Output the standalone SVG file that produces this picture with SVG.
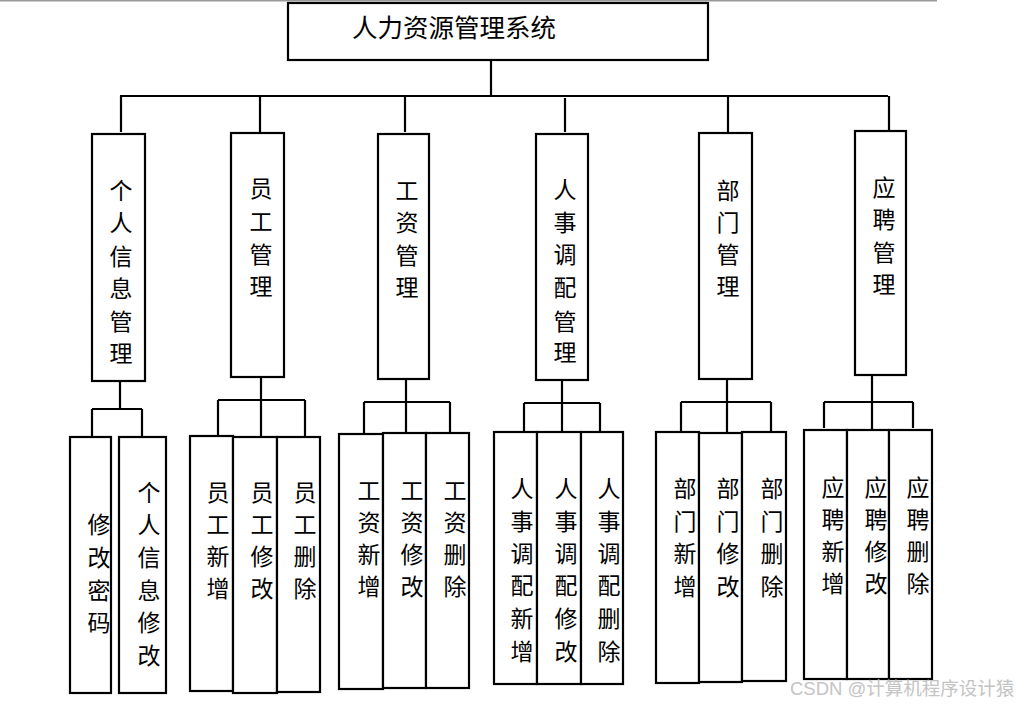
<svg xmlns="http://www.w3.org/2000/svg" width="1024" height="706" viewBox="0 0 1024 706">
<style>
.b{fill:#fff;stroke:#000;stroke-width:2.2}
.l{fill:none;stroke:#000;stroke-width:2.2}
.t{font-family:"Liberation Serif","Noto Sans CJK SC",serif;font-size:23px;fill:#000;text-anchor:middle;dominant-baseline:central}
.wm{font-family:"Liberation Sans","Noto Sans CJK SC",sans-serif;font-size:18.5px;fill:#c4c4c4}
</style>
<rect width="1024" height="706" fill="#fff"/>
<line x1="0" y1="0.5" x2="937" y2="0.5" stroke="#999" stroke-width="2"/>
<g id="connectors">
<path class="l" d="M491,60V97M120,96H888M121,96V132M260,96V132M405,96V132M565,98V132M728,96V132M889,96V130"/>
<path class="l" d="M120,381V409M92,409H142M92,409V436M142,409V436"/>
<path class="l" d="M261,377V436M218,400H305M218,400V436M305,400V436"/>
<path class="l" d="M406,379V433M364,402H450M364,402V433M450,402V433"/>
<path class="l" d="M562,380V431M524,403H600M524,403V431M600,403V431"/>
<path class="l" d="M727,379V432M681,402H771M681,402V431M771,402V431"/>
<path class="l" d="M872,375V430M824,402H913M824,402V428M913,402V428"/>
</g>
<g id="root"><rect class="b" x="288" y="3" width="420" height="57"/>
<text x="454" y="28" font-family="Liberation Serif,Noto Sans CJK SC,serif" font-size="25.5" text-anchor="middle" dominant-baseline="central">人力资源管理系统</text></g>
<g id="n1"><rect class="b" x="92" y="134" width="53" height="247"/><text class="t"><tspan x="121" y="191">个</tspan><tspan x="121" y="223">人</tspan><tspan x="121" y="257">信</tspan><tspan x="121" y="289">息</tspan><tspan x="121" y="322">管</tspan><tspan x="121" y="354">理</tspan></text></g>
<g id="n2"><rect class="b" x="231" y="133" width="53" height="244"/><text class="t"><tspan x="261" y="189">员</tspan><tspan x="261" y="222">工</tspan><tspan x="261" y="255">管</tspan><tspan x="261" y="287">理</tspan></text></g>
<g id="n3"><rect class="b" x="378" y="134" width="51" height="245"/><text class="t"><tspan x="407" y="191">工</tspan><tspan x="407" y="223">资</tspan><tspan x="407" y="256">管</tspan><tspan x="407" y="288">理</tspan></text></g>
<g id="n4"><rect class="b" x="536" y="134" width="52" height="246"/><text class="t"><tspan x="565" y="190">人</tspan><tspan x="565" y="223">事</tspan><tspan x="565" y="255">调</tspan><tspan x="565" y="288">配</tspan><tspan x="565" y="322">管</tspan><tspan x="565" y="353">理</tspan></text></g>
<g id="n5"><rect class="b" x="699" y="133" width="53" height="246"/><text class="t"><tspan x="728" y="191">部</tspan><tspan x="728" y="223">门</tspan><tspan x="728" y="255">管</tspan><tspan x="728" y="287">理</tspan></text></g>
<g id="n6"><rect class="b" x="855" y="131" width="51" height="244"/><text class="t"><tspan x="884" y="188">应</tspan><tspan x="884" y="220">聘</tspan><tspan x="884" y="253">管</tspan><tspan x="884" y="285">理</tspan></text></g>
<g id="n1a"><rect class="b" x="70" y="437" width="41" height="256"/><text class="t"><tspan x="99" y="525">修</tspan><tspan x="99" y="558">改</tspan><tspan x="99" y="591">密</tspan><tspan x="99" y="623">码</tspan></text></g>
<g id="n1b"><rect class="b" x="119" y="437" width="47" height="256"/><text class="t"><tspan x="149" y="493">个</tspan><tspan x="149" y="525">人</tspan><tspan x="149" y="558">信</tspan><tspan x="149" y="591">息</tspan><tspan x="149" y="623">修</tspan><tspan x="149" y="656">改</tspan></text></g>
<g id="n2a"><rect class="b" x="190" y="436" width="43" height="255"/><text class="t"><tspan x="218" y="493">员</tspan><tspan x="218" y="525">工</tspan><tspan x="218" y="557">新</tspan><tspan x="218" y="589">增</tspan></text></g>
<g id="n2b"><rect class="b" x="233" y="437" width="44" height="256"/><text class="t"><tspan x="262" y="493">员</tspan><tspan x="262" y="525">工</tspan><tspan x="262" y="557">修</tspan><tspan x="262" y="589">改</tspan></text></g>
<g id="n2c"><rect class="b" x="277" y="437" width="43" height="255"/><text class="t"><tspan x="305" y="493">员</tspan><tspan x="305" y="525">工</tspan><tspan x="305" y="557">删</tspan><tspan x="305" y="589">除</tspan></text></g>
<g id="n3a"><rect class="b" x="339" y="434" width="44" height="255"/><text class="t"><tspan x="369" y="491">工</tspan><tspan x="369" y="523">资</tspan><tspan x="369" y="555">新</tspan><tspan x="369" y="587">增</tspan></text></g>
<g id="n3b"><rect class="b" x="383" y="433" width="43" height="255"/><text class="t"><tspan x="412" y="491">工</tspan><tspan x="412" y="523">资</tspan><tspan x="412" y="555">修</tspan><tspan x="412" y="587">改</tspan></text></g>
<g id="n3c"><rect class="b" x="426" y="433" width="43" height="255"/><text class="t"><tspan x="455" y="491">工</tspan><tspan x="455" y="523">资</tspan><tspan x="455" y="555">删</tspan><tspan x="455" y="587">除</tspan></text></g>
<g id="n4a"><rect class="b" x="494" y="432" width="43" height="252"/><text class="t"><tspan x="522" y="489">人</tspan><tspan x="522" y="522">事</tspan><tspan x="522" y="554">调</tspan><tspan x="522" y="586">配</tspan><tspan x="522" y="619">新</tspan><tspan x="522" y="652">增</tspan></text></g>
<g id="n4b"><rect class="b" x="537" y="432" width="44" height="252"/><text class="t"><tspan x="566" y="489">人</tspan><tspan x="566" y="522">事</tspan><tspan x="566" y="554">调</tspan><tspan x="566" y="586">配</tspan><tspan x="566" y="619">修</tspan><tspan x="566" y="652">改</tspan></text></g>
<g id="n4c"><rect class="b" x="581" y="432" width="42" height="252"/><text class="t"><tspan x="609" y="489">人</tspan><tspan x="609" y="522">事</tspan><tspan x="609" y="554">调</tspan><tspan x="609" y="586">配</tspan><tspan x="609" y="619">删</tspan><tspan x="609" y="652">除</tspan></text></g>
<g id="n5a"><rect class="b" x="656" y="432" width="43" height="251"/><text class="t"><tspan x="685" y="489">部</tspan><tspan x="685" y="522">门</tspan><tspan x="685" y="554">新</tspan><tspan x="685" y="587">增</tspan></text></g>
<g id="n5b"><rect class="b" x="699" y="433" width="43" height="249"/><text class="t"><tspan x="728" y="489">部</tspan><tspan x="728" y="522">门</tspan><tspan x="728" y="554">修</tspan><tspan x="728" y="587">改</tspan></text></g>
<g id="n5c"><rect class="b" x="742" y="432" width="44" height="249"/><text class="t"><tspan x="772" y="489">部</tspan><tspan x="772" y="522">门</tspan><tspan x="772" y="554">删</tspan><tspan x="772" y="587">除</tspan></text></g>
<g id="n6a"><rect class="b" x="804" y="430" width="43" height="249"/><text class="t"><tspan x="833" y="488">应</tspan><tspan x="833" y="520">聘</tspan><tspan x="833" y="552">新</tspan><tspan x="833" y="584">增</tspan></text></g>
<g id="n6b"><rect class="b" x="847" y="430" width="42" height="249"/><text class="t"><tspan x="876" y="488">应</tspan><tspan x="876" y="520">聘</tspan><tspan x="876" y="552">修</tspan><tspan x="876" y="584">改</tspan></text></g>
<g id="n6c"><rect class="b" x="889" y="430" width="43" height="249"/><text class="t"><tspan x="918" y="488">应</tspan><tspan x="918" y="520">聘</tspan><tspan x="918" y="552">删</tspan><tspan x="918" y="584">除</tspan></text></g>
<text class="wm" x="790" y="695">CSDN @计算机程序设计猿</text>
</svg>
